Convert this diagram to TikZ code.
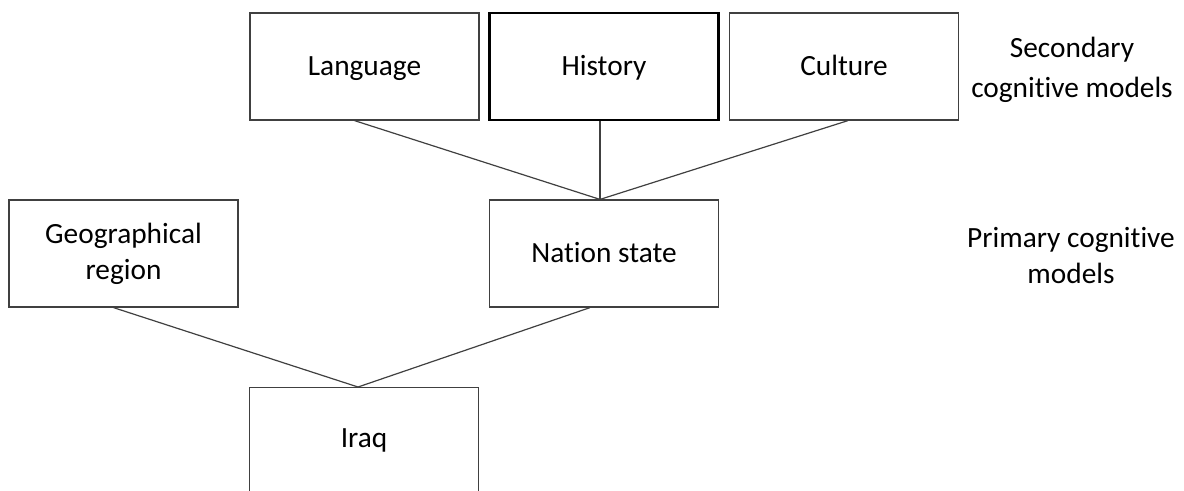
\documentclass[tikz,border=0pt]{standalone}
\usepackage{fontspec}
\setmainfont[Ligatures=NoCommon]{Carlito}
\usepackage{tikz}
\usetikzlibrary{positioning, calc}
\definecolor{edgeGray}{RGB}{64,64,64}

\begin{document}
\begin{tikzpicture}[x=0.75pt, y=-0.75pt,
    modelbox/.style={draw=edgeGray, line width=0.9pt, minimum width=171.75pt,
      minimum height=80.25pt, inner sep=0pt, align=center,
      font=\fontsize{22}{28}\selectfont},
    oneline/.style={text height=15pt, text depth=1pt},
    tierlabel/.style={align=center, font=\fontsize{22}{29}\selectfont},
    link/.style={draw=edgeGray, line width=0.9pt}]
        \useasboundingbox (0,0) rectangle (1184,490);
        \clip (0,0) rectangle (1184,490);
        % secondary tier
        \node[modelbox, oneline] (lang) at (364.5,66.5) {Language};
        \node[modelbox, oneline, draw=black, line width=1.8pt] (hist) at (604,66.5) {History};
        \node[modelbox, oneline] (cult) at (844,66.5) {Culture};
        % primary tier
        \node[modelbox, font=\fontsize{22}{27}\selectfont] (geo) at (123.5,253.5) {Geographical\\region};
        \node[modelbox, oneline] (nation) at (604,253.5) {Nation state};
        % target
        \node[modelbox, minimum height=100pt, anchor=north] (iraq) at (364,387) {};
        \node[oneline, font=\fontsize{22}{28}\selectfont] at (364,438) {Iraq};
        \node[tierlabel, font=\fontsize{22}{30}\selectfont] (seclab) at (1072,69.5) {Secondary\\cognitive models};
        \node[tierlabel, font=\fontsize{22}{27}\selectfont] (primlab) at (1071,256) {Primary cognitive\\models};
        % connectors
        \coordinate (upjoin) at ($(nation.north)+(-4,0)$);
        \coordinate (lowjoin) at ($(iraq.north)+(-6,0)$);
        \draw[link] ($(lang.south)+(-10,0)$) -- (upjoin);
        \draw[link] ($(hist.south)+(-4,0)$) -- (upjoin);
        \draw[link] ($(cult.south)+(4,0)$) -- (upjoin);
        \draw[link] ($(geo.south)+(-10,0)$) -- (lowjoin);
        \draw[link] ($(nation.south)+(-14,0)$) -- (lowjoin);
      \end{tikzpicture}
\end{document}
